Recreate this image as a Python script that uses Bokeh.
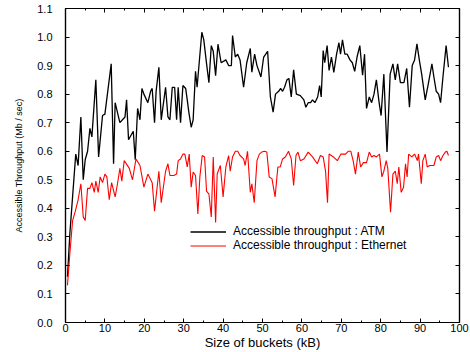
from bokeh.plotting import figure
from bokeh.models import Range1d, LinearAxis, FixedTicker, Legend
from bokeh.embed import file_html
from bokeh.resources import INLINE

# ---- data ----
atm_x = [0.5, 1.1, 2.6, 3.2, 3.9, 4.5, 5.0, 5.6, 6.2, 6.7, 7.7, 8.4, 9.4, 10.0,
         11.6, 12.2, 12.6, 13.8, 15.1, 15.5, 16.0, 17.2, 17.7, 18.3, 18.9, 19.4,
         19.9, 20.9, 21.6, 22.0, 22.6, 23.0, 23.7, 24.3, 25.4, 26.0, 26.5, 27.1,
         27.7, 28.2, 28.6, 29.2, 29.8, 30.5, 30.9, 31.3, 31.9, 32.4, 33.0, 33.4,
         34.6, 35.1, 35.8, 36.4, 37.0, 37.5, 38.1, 38.7, 39.5, 40.7, 41.4, 42.1,
         42.4, 43.1, 43.7, 44.3, 45.2, 46.0, 46.9, 47.3, 48.0, 48.6, 49.6, 50.3,
         51.3, 52.0, 52.7, 53.3, 54.1, 54.6, 55.1, 55.6, 56.2, 56.7, 57.3, 57.9,
         58.6, 59.6, 60.5, 61.0, 61.6, 62.2, 62.7, 63.3, 64.0, 64.5, 64.9, 65.4,
         65.8, 66.4, 66.9, 67.5, 68.1, 68.8, 69.4, 69.8, 70.3, 70.9, 71.5, 72.2,
         72.8, 73.4, 74.0, 74.7, 75.4, 75.9, 76.4, 77.1, 77.7, 78.3, 78.9, 79.6,
         80.1, 80.8, 81.6, 82.4, 83.1, 83.7, 84.3, 85.0, 85.9, 86.6, 87.3, 88.0,
         88.6, 89.2, 89.8, 90.4, 91.3, 92.0, 93.0, 93.5, 94.1, 94.7, 95.2, 95.8,
         96.6, 97.2]
atm_y = [0.16, 0.31, 0.59, 0.55, 0.72, 0.50, 0.57, 0.60, 0.68, 0.65, 0.85, 0.58, 0.725, 0.73,
         0.906, 0.556, 0.77, 0.70, 0.72, 0.78, 0.64, 0.67, 0.57, 0.75, 0.71, 0.82,
         0.80, 0.77, 0.81, 0.82, 0.70, 0.81, 0.894, 0.71, 0.824, 0.72, 0.71, 0.824,
         0.824, 0.71, 0.824, 0.70, 0.83, 0.82, 0.78, 0.737, 0.684, 0.71, 0.88, 0.824,
         1.017, 0.99, 0.907, 0.84, 0.97, 0.95, 0.865, 0.975, 0.91, 0.92, 0.90, 0.90,
         1.005, 0.93, 0.94, 0.92, 0.824, 0.91, 0.96, 0.877, 0.94, 0.90, 0.86, 0.93,
         0.95, 0.79, 0.737, 0.80, 0.81, 0.82, 0.81, 0.824, 0.85, 0.855, 0.79, 0.885,
         0.80, 0.795, 0.78, 0.754, 0.77, 0.77, 0.78, 0.77, 0.79, 0.83, 0.79, 0.953,
         0.91, 0.97, 0.883, 0.93, 0.876, 0.94, 0.98, 0.94, 0.99, 0.94, 0.94, 0.92,
         0.91, 0.88, 0.93, 0.97, 0.866, 0.94, 0.75, 0.79, 0.77, 0.80, 0.85, 0.77,
         0.725, 0.87, 0.597, 0.87, 0.906, 0.85, 0.906, 0.84, 0.84, 0.89, 0.754, 0.90,
         0.92, 0.976, 0.92, 0.87, 0.78, 0.83, 0.906, 0.86, 0.81, 0.80, 0.77, 0.86,
         0.97, 0.894]

eth_x = [0.5, 1.1, 1.8, 2.5, 3.2, 3.9, 4.5, 5.0, 5.6, 6.2, 6.7, 7.3, 7.7, 8.3,
         8.8, 9.4, 10.0, 10.5, 11.1, 11.7, 12.6, 13.2, 13.8, 14.3, 14.9, 16.2,
         17.0, 17.9, 18.9, 19.9, 20.9, 22.0, 22.6, 23.7, 24.3, 25.4, 26.0, 26.5,
         27.5, 28.2, 28.6, 29.2, 29.8, 30.3, 30.9, 31.4, 31.9, 32.4, 33.0, 33.6,
         34.1, 34.7, 35.3, 35.8, 36.4, 37.0, 37.5, 38.1, 38.5, 39.3, 40.0, 40.7,
         41.4, 41.8, 42.4, 43.1, 43.7, 44.3, 45.2, 45.6, 46.2, 46.9, 47.3, 47.9,
         48.6, 49.2, 49.8, 50.5, 51.1, 51.7, 52.4, 53.2, 53.9, 54.5, 55.1, 55.8,
         56.6, 57.3, 57.9, 58.5, 59.0, 59.6, 60.5, 61.6, 62.7, 63.9, 64.7, 65.4,
         66.0, 66.5, 66.9, 68.0, 69.0, 69.9, 71.1, 71.8, 72.4, 73.0, 73.6, 74.3,
         74.9, 75.6, 76.4, 77.1, 77.7, 78.3, 78.9, 79.7, 80.3, 80.8, 81.4, 81.8,
         82.5, 83.1, 83.7, 84.2, 84.6, 85.2, 85.8, 86.3, 86.7, 87.1, 87.9, 88.6,
         89.3, 89.6, 90.3, 90.7, 91.3, 91.8, 92.4, 93.5, 94.1, 94.7, 95.2, 95.8,
         96.4, 96.8, 97.2]
eth_y = [0.13, 0.24, 0.357, 0.39, 0.43, 0.486, 0.37, 0.357, 0.47, 0.47, 0.49, 0.456, 0.495, 0.456,
         0.51, 0.49, 0.52, 0.51, 0.43, 0.49, 0.44, 0.486, 0.54, 0.495, 0.567, 0.54,
         0.50, 0.573, 0.55, 0.474, 0.52, 0.49, 0.39, 0.53, 0.42, 0.53, 0.556, 0.515,
         0.515, 0.52, 0.567, 0.573, 0.59, 0.59, 0.545, 0.59, 0.474, 0.527, 0.515, 0.38,
         0.51, 0.585, 0.58, 0.46, 0.45, 0.37, 0.58, 0.35, 0.52, 0.55, 0.44, 0.545,
         0.585, 0.53, 0.58, 0.60, 0.60, 0.585, 0.573, 0.55, 0.60, 0.456, 0.486, 0.42,
         0.567, 0.59, 0.597, 0.60, 0.597, 0.51, 0.504, 0.44, 0.545, 0.545, 0.573, 0.58,
         0.60, 0.573, 0.48, 0.585, 0.597, 0.567, 0.573, 0.597, 0.58, 0.556, 0.585, 0.58,
         0.53, 0.42, 0.59, 0.58, 0.567, 0.59, 0.59, 0.60, 0.60, 0.567, 0.52, 0.597,
         0.545, 0.56, 0.56, 0.597, 0.58, 0.585, 0.58, 0.59, 0.51, 0.53, 0.567, 0.54,
         0.386, 0.52, 0.53, 0.486, 0.545, 0.456, 0.474, 0.556, 0.51, 0.59, 0.58, 0.59,
         0.567, 0.59, 0.486, 0.567, 0.59, 0.545, 0.55, 0.55, 0.58, 0.585, 0.567, 0.585,
         0.597, 0.60, 0.585]

x_ticks = [0, 10, 20, 30, 40, 50, 60, 70, 80, 90, 100]
x_tick_labels = ["0", "10", "20", "30", "40", "50", "60", "70", "80", "90", "100"]
y_ticks = [0.0, 0.1, 0.2, 0.3, 0.4, 0.5, 0.6, 0.7, 0.8, 0.9, 1.0, 1.1]
y_tick_labels = ["0.0", "0.1", "0.2", "0.3", "0.4", "0.5", "0.6", "0.7", "0.8", "0.9", "1.0", "1.1"]
series_labels = ["Accessible throughput : ATM", "Accessible throughput : Ethernet"]
x_title = "Size of buckets (kB)"
y_title = "Accessible Throughput (Mb / sec)"

FONT = "Liberation Sans"

p = figure(width=470, height=352, output_backend="svg", toolbar_location=None,
           x_range=Range1d(0, 100), y_range=Range1d(0, 1.1),
           x_axis_location=None, y_axis_location=None,
           min_border_left=65, min_border_right=11, min_border_top=8, min_border_bottom=30)
p.grid.visible = False
p.outline_line_color = "black"
p.outline_line_width = 1.2
p.background_fill_color = "white"
p.border_fill_color = "white"

x_minor = [t + 5 for t in x_ticks[:-1]]


def style_axis(ax, labels):
    ax.major_tick_in = 4
    ax.major_tick_out = 0
    ax.minor_tick_in = 2
    ax.minor_tick_out = 0
    ax.axis_line_color = "black"
    ax.axis_line_width = 1.2
    ax.major_tick_line_color = "black"
    ax.minor_tick_line_color = "black"
    ax.major_label_text_font = FONT
    ax.major_label_text_font_size = "11px"
    ax.major_label_text_color = "black" if labels else None
    ax.axis_label_text_font = FONT
    ax.axis_label_text_font_style = "normal"
    ax.axis_label_text_color = "black"


xb = LinearAxis(ticker=FixedTicker(ticks=x_ticks, minor_ticks=x_minor),
                major_label_overrides={t: l for t, l in zip(x_ticks, x_tick_labels)})
style_axis(xb, True)
xb.axis_label = x_title
xb.axis_label_text_font_size = "13px"
xb.major_label_standoff = 1
xb.axis_label_standoff = 0
p.add_layout(xb, "below")

xt = LinearAxis(ticker=FixedTicker(ticks=x_ticks, minor_ticks=x_minor))
style_axis(xt, False)
xt.major_label_text_font_size = "0px"
xt.major_label_standoff = 0
p.add_layout(xt, "above")

yl = LinearAxis(ticker=FixedTicker(ticks=y_ticks, minor_ticks=[]),
                major_label_overrides={t: l for t, l in zip(y_ticks, y_tick_labels)})
style_axis(yl, True)
yl.axis_label = y_title
yl.axis_label_text_font_size = "9px"
yl.major_label_standoff = 13
yl.axis_label_standoff = 10
p.add_layout(yl, "left")

yr = LinearAxis(ticker=FixedTicker(ticks=y_ticks, minor_ticks=[]))
style_axis(yr, False)
yr.major_label_text_font_size = "0px"
yr.major_label_standoff = 0
p.add_layout(yr, "right")

r1 = p.line(atm_x, atm_y, line_color="black", line_width=1.3)
r2 = p.line(eth_x, eth_y, line_color="#ff0000", line_width=1.1)

legend = Legend(items=[(series_labels[0], [r1]), (series_labels[1], [r2])],
                location=(125, 70), orientation="vertical",
                glyph_width=36, glyph_height=11, label_height=11, label_standoff=7,
                spacing=-3, padding=0, margin=0,
                border_line_color=None, background_fill_alpha=0,
                label_text_font=FONT, label_text_font_size="12px",
                label_text_color="black")
p.add_layout(legend)

open("out.html", "w").write(file_html(p, INLINE))
